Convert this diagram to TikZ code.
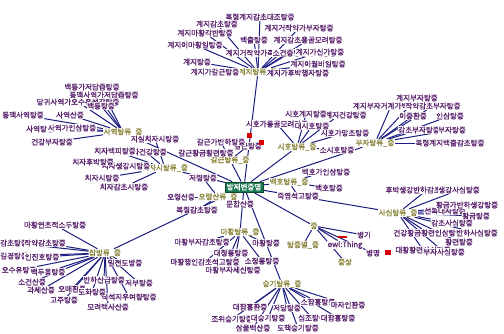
\documentclass[tikz,border=0pt]{standalone}
\usepackage{fontspec}
\newfontfamily\kr{Noto Sans CJK KR}[FakeBold=1.2]
\usepackage{tikz}
\usetikzlibrary{backgrounds}
\definecolor{leafc}{RGB}{90,35,110}
\definecolor{hubc}{RGB}{138,132,58}
\definecolor{edgec}{RGB}{28,30,130}
\definecolor{rootc}{RGB}{26,120,78}
\tikzset{
    leaf/.style={font=\kr\fontsize{7.5}{8}\selectfont, text=leafc, fill=white, inner sep=0.4pt},
    hub/.style={leaf, text=hubc},
    root/.style={leaf, fill=rootc, text=white, draw=rootc!60!black, inner sep=1.8pt},
    edge/.style={draw=edgec, line width=1pt},
    redbox/.style={fill=red!85!black}
}

\begin{document}
\begin{tikzpicture}[x=1pt, y=-1pt]
    \useasboundingbox (0,0) rectangle (504,333);

    \node[hub] (gj) at (258,72) {계지탕류\_증};
    \foreach \n/\x/\y/\t in {gj1/260/17/복령계지감초대조탕증, gj2/217/24/계지감초탕증, gj3/299/28/계지거작약가부자탕증,
        gj4/205/33/계지마황각반탕증, gj5/254/40/백출탕증, gj6/308/40/계지감초용골모려탕증, gj7/195/45/계지이마황일탕증,
        gj8/281/53/계지거작약가촉칠모려용골구역탕증, gj9/290/53/소건중탕증, gj10/320/52/계지가신가탕증, gj11/197/62/계지탕증,
        gj12/318/64/계지이월비일탕증, gj13/215/72/계지가갈근탕증, gj14/298/73/계지가후박행자탕증}
        \node[leaf] (\n) at (\x,\y) {\t};

    \node[hub] (sy) at (123,132) {사역탕류\_증};
    \foreach \n/\x/\y/\t in {sy1/92/87/백통가저담즙탕증, sy2/104/95/통맥사역가저담즙탕증, sy3/78/102/당귀사역가오수유생강탕증,
        sy4/101/106/백통탕증, sy5/23/115/통맥사역탕증, sy6/70/115/사역산증, sy7/40/129/사역탕증,
        sy8/72/128/사역가인삼탕증, sy9/52/142/건강부자탕증}
        \node[leaf] (\n) at (\x,\y) {\t};

    \node[hub] (cj) at (165,168) {치자시탕류\_증};
    \foreach \n/\x/\y/\t in {cj1/155/139/지실치자시탕증, cj2/146/152/치자건강탕증, cj3/115/151/치자백피탕증,
        cj4/126/166/치자생강시탕증, cj5/93/162/치자후박탕증, cj6/102/178/치자시탕증, cj7/124/187/치자감초시탕증}
        \node[leaf] (\n) at (\x,\y) {\t};

    \node[hub] (gg) at (230,160) {갈근탕류\_증};
    \foreach \n/\x/\y/\t in {gg1/248/146/갈근탕증, gg2/221/142/갈근가반하탕증, gg3/206/153/갈근황금황련탕증}
        \node[leaf] (\n) at (\x,\y) {\t};

    \node[hub] (sh) at (297,147) {시호탕류\_증};
    \foreach \n/\x/\y/\t in {sh1/339/115/시호계지건강탕증, sh2/306/114/시호계지탕증, sh3/277/124/시호가룡골모려탕증,
        sh4/345/133/시호가망초탕증, sh5/312/126/대시호탕증, sh6/337/150/소시호탕증}
        \node[leaf] (\n) at (\x,\y) {\t};

    \node[hub] (bj) at (375,143) {부자탕류\_증};
    \foreach \n/\x/\y/\t in {bj1/417/98/계지부자탕증, bj2/391/106/계지부자거계가백출탕증, bj3/433/106/작약감초부자탕증,
        bj4/413/116/이중환증, bj5/450/116/인삼탕증, bj6/419/130/감초부자탕증, bj7/452/130/부자탕증,
        bj8/450/143/복령계지백출감초탕증}
        \node[leaf] (\n) at (\x,\y) {\t};

    \node[hub] (bh) at (289,182) {백호탕류\_증};
    \foreach \n/\x/\y/\t in {bh1/326/172/백호가인삼탕증, bh2/329/188/백호탕증, bh3/298/196/죽엽석고탕증}
        \node[leaf] (\n) at (\x,\y) {\t};

    \node[hub] (ol) at (218,197) {오령산류\_증};
    \foreach \n/\x/\y/\t in {ol1/203/178/저령탕증, ol2/181/197/오령산증, ol3/197/210/복령감초탕증, ol4/240/204/문합산증}
        \node[leaf] (\n) at (\x,\y) {\t};

    \node[hub] (mh) at (240,232) {마황탕류\_증};
    \foreach \n/\x/\y/\t in {mh1/202/242/마황부자감초탕증, mh2/266/243/마황탕증, mh3/231/253/대청룡탕증,
        mh4/205/262/마황행인감초석고탕증, mh5/262/261/소청룡탕증, mh6/233/270/마황부자세신탕증}
        \node[leaf] (\n) at (\x,\y) {\t};

    \node[hub] (jb) at (105,253) {잡방류\_증};
    \foreach \n/\x/\y/\t in {jb1/55/225/마황연초적소두탕증, jb2/14/243/감초탕증, jb3/45/243/작약감초탕증,
        jb4/14/256/길경탕증, jb5/42/257/인진호탕증, jb6/125/263/밀전도방증, jb7/19/270/오수유탕증,
        jb8/48/272/백두옹탕증, jb9/32/282/소건산증, jb10/139/283/저부탕증, jb11/104/280/반하산급탕증,
        jb12/41/290/과체산증, jb13/72/289/오매환증, jb14/129/297/적석지우여량탕증, jb15/92/292/도화탕증,
        jb16/64/300/고주탕증, jb17/108/307/모려택사산증}
        \node[leaf] (\n) at (\x,\y) {\t};

    \node[hub] (sg) at (282,284) {승기탕류\_증};
    \foreach \n/\x/\y/\t in {sg1/250/307/대함흉환증, sg2/287/308/저당탕증, sg3/318/302/소함흉탕증,
        sg4/348/305/마자인환증, sg5/232/319/조위승기탕증, sg6/268/318/대승기탕증, sg7/312/318/십조탕증,
        sg8/338/318/대함흉탕증, sg9/253/328/삼물백산증, sg10/298/328/도핵승기탕증}
        \node[leaf] (\n) at (\x,\y) {\t};

    \node[hub] (ss) at (398,213) {사심탕류\_증};
    \foreach \n/\x/\y/\t in {ss1/427/190/후박생강반하감초인삼탕증, ss2/459/190/생강사심탕증, ss3/445/211/선복대자탕증,
        ss4/467/205/황금가반하생강탕증, ss5/476/216/황금탕증, ss6/452/223/감초사심탕증,
        ss7/428/233/건강황금황련인삼탕증, ss8/477/233/반하사심탕증, ss9/459/242/황련탕증,
        ss10/423/250/대황황련사심탕증, ss11/444/252/부자사심탕증}
        \node[leaf] (\n) at (\x,\y) {\t};

    \node[hub] (jg) at (314,226) {증};
    \foreach \n/\s/\x/\y/\t in {jg1/leaf/364/235/병기, jg2/hub/303/245/탕증별\_증, jg3/leaf/345/245/owl:Thing,
        jg4/leaf/373/253/병명, jg5/hub/345/262/증상}
        \node[\s] (\n) at (\x,\y) {\t};

    \node[root] (c) at (244,187) {방제변증명};

    \fill[redbox] (247,133) rectangle (252,138);
    \fill[redbox] (259,140) rectangle (264,145);
    \fill[redbox] (385,250) rectangle (391,255);
    \fill[redbox] (338,236) rectangle (347,238);

    \begin{pgfonlayer}{background}
        \fill[white] (0,0) rectangle (504,333);
        \foreach \h in {gj,sy,cj,gg,sh,bj,bh,ol,mh,jb,sg,ss,jg}
            \draw[edge] (c) -- (\h);
        \foreach \n in {1,...,14}
            \draw[edge] (gj) -- (gj\n);
        \foreach \n in {1,...,9}
            \draw[edge] (sy) -- (sy\n);
        \foreach \n in {1,...,7}
            \draw[edge] (cj) -- (cj\n);
        \foreach \n in {1,2,3}
            \draw[edge] (gg) -- (gg\n);
        \foreach \n in {1,...,6}
            \draw[edge] (sh) -- (sh\n);
        \foreach \n in {1,...,8}
            \draw[edge] (bj) -- (bj\n);
        \foreach \n in {1,2,3}
            \draw[edge] (bh) -- (bh\n);
        \foreach \n in {1,...,4}
            \draw[edge] (ol) -- (ol\n);
        \foreach \n in {1,...,6}
            \draw[edge] (mh) -- (mh\n);
        \foreach \n in {1,...,17}
            \draw[edge] (jb) -- (jb\n);
        \foreach \n in {1,...,10}
            \draw[edge] (sg) -- (sg\n);
        \foreach \n in {1,...,11}
            \draw[edge] (ss) -- (ss\n);
        \foreach \n in {1,...,5}
            \draw[edge] (jg) -- (jg\n);
    \end{pgfonlayer}
\end{tikzpicture}
\end{document}
